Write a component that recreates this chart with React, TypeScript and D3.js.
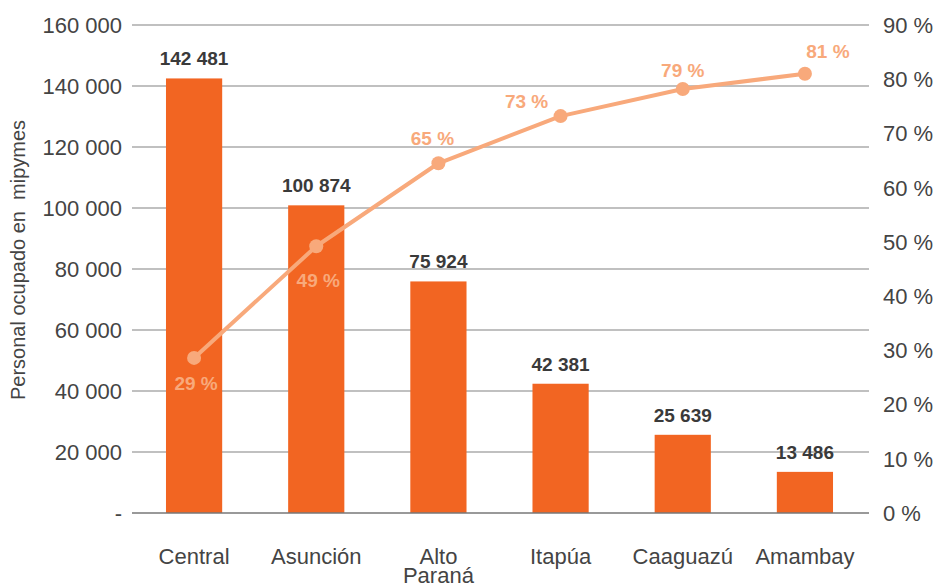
import React from "react";
import * as d3 from "d3";

const categories = ["Central", "Asunción", "Alto Paraná", "Itapúa", "Caaguazú", "Amambay"];
const categoryLines = [["Central"], ["Asunción"], ["Alto", "Paraná"], ["Itapúa"], ["Caaguazú"], ["Amambay"]];
const personal = [142481, 100874, 75924, 42381, 25639, 13486];
const cumulativePct = [28.6, 49.2, 64.5, 73.2, 78.2, 81.0];
const pctLabels = ["29 %", "49 %", "65 %", "73 %", "79 %", "81 %"];
const leftTicks = [0, 20000, 40000, 60000, 80000, 100000, 120000, 140000, 160000];
const rightTicks = [0, 10, 20, 30, 40, 50, 60, 70, 80, 90];

// label placement offsets (style, not data)
const pctLabelDx = [2, 2, -6, -34, 0, 23];
const pctLabelDy = [25, 34, -25, -15, -19, -23];

const W = 940, H = 585;
const left = 133, right = 866, top = 25, bottom = 513;
const BAR = "#F26522";
const LINE = "#F8A97B";
const FONT = "'Liberation Sans', Arial, Helvetica, sans-serif";

const fmt = (v: number) => d3.format(",")(v).replace(/,/g, " ");

export default function App() {
  const x = d3.scaleBand<string>().domain(categories).range([left, right]).paddingInner(0.54).paddingOuter(0.27);
  const y = d3.scaleLinear().domain([0, 160000]).range([bottom, top]);
  const y2 = d3.scaleLinear().domain([0, 90]).range([bottom, top]);
  const cx = (c: string) => (x(c) as number) + x.bandwidth() / 2;

  const line = d3.line<number>()
    .x((_, i) => cx(categories[i]))
    .y((d) => y2(d));

  return (
    <svg width={W} height={H} style={{ position: "absolute", left: 0, top: 0, fontFamily: FONT }}>
      <rect width={W} height={H} fill="#fff" />
      {leftTicks.filter((t) => t > 0).map((t) => (
        <line key={t} x1={left - 1} x2={right + 3} y1={y(t)} y2={y(t)} stroke="#ABABAB" strokeWidth={1.3} />
      ))}
      {leftTicks.map((t) => (
        <text key={"l" + t} x={122} y={y(t)} dy="0.36em" textAnchor="end" fontSize={22} fill="#444">
          {t === 0 ? "-" : fmt(t)}
        </text>
      ))}
      {rightTicks.map((t) => (
        <text key={"r" + t} x={883} y={y2(t)} dy="0.36em" textAnchor="start" fontSize={22} fill="#444">
          {t + " %"}
        </text>
      ))}
      {categories.map((c, i) => (
        <rect key={c} x={x(c)} y={y(personal[i])} width={x.bandwidth()} height={bottom - y(personal[i])} fill={BAR} />
      ))}
      <line x1={left - 1} x2={right + 3} y1={bottom} y2={bottom} stroke="#777" strokeWidth={1.5} />
      {categories.map((c, i) => (
        <text key={"v" + c} x={cx(c)} y={y(personal[i]) - 13} textAnchor="middle" fontSize={19} fontWeight="bold" fill="#3a3a3a">
          {fmt(personal[i])}
        </text>
      ))}
      <path d={line(cumulativePct) || ""} fill="none" stroke={LINE} strokeWidth={4} strokeLinejoin="round" />
      {cumulativePct.map((p, i) => (
        <circle key={"c" + i} cx={cx(categories[i])} cy={y2(p)} r={7} fill={LINE} />
      ))}
      {cumulativePct.map((p, i) => (
        <text key={"p" + i} x={cx(categories[i]) + pctLabelDx[i]} y={y2(p) + pctLabelDy[i]} dy="0.36em" textAnchor="middle" fontSize={19} fontWeight="bold" fill={LINE}>
          {pctLabels[i]}
        </text>
      ))}
      {categories.map((c, i) => (
        <text key={"x" + c} x={cx(c)} y={564} textAnchor="middle" fontSize={22} fill="#444">
          {categoryLines[i].map((s, j) => (
            <tspan key={j} x={cx(c)} dy={j === 0 ? 0 : 19}>{s}</tspan>
          ))}
        </text>
      ))}
      <text transform={`translate(18, 260) rotate(-90)`} textAnchor="middle" dy="0.36em" fontSize={20} fill="#444" style={{ whiteSpace: "pre" }}>
        {"Personal ocupado en  mipymes"}
      </text>
    </svg>
  );
}
